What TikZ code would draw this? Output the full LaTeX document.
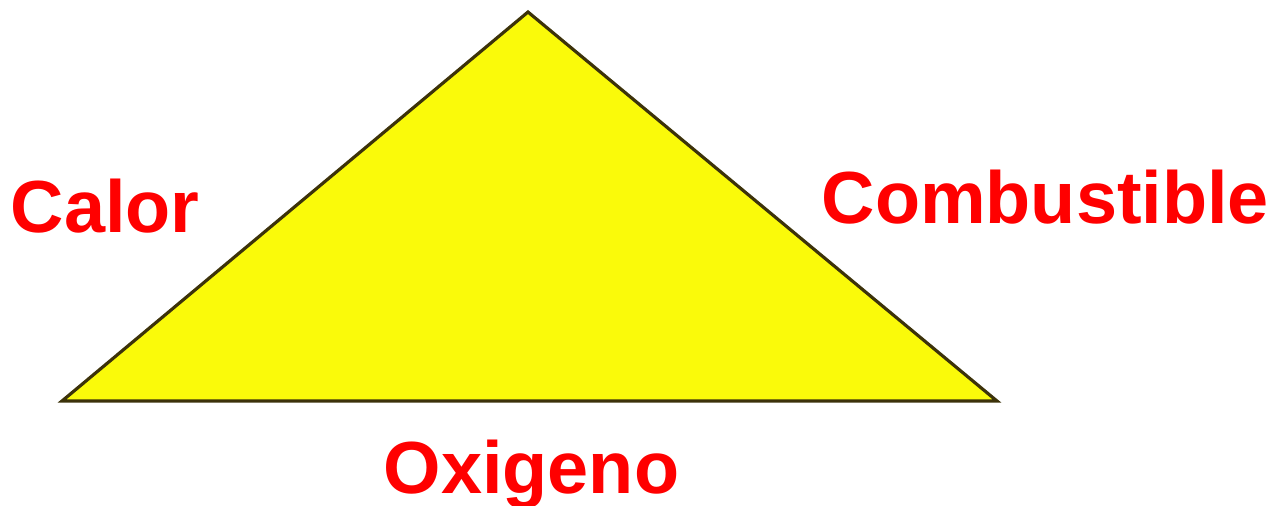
\documentclass[tikz,border=0pt]{standalone}
\usepackage{fontspec}
\setmainfont{Liberation Sans}
\usetikzlibrary{positioning}
\definecolor{giallo}{RGB}{250,250,10}
\definecolor{bordo}{RGB}{60,50,10}
\definecolor{rosso}{RGB}{255,0,0}

\begin{document}
\begin{tikzpicture}[x=0.01cm, y=-0.01cm,
    % Stile per il triangolo
    triangolo/.style={fill=giallo, draw=bordo, line width=0.9pt, line join=miter},
    % Stile per le etichette
    etichetta/.style={font=\fontsize{21}{24}\selectfont\bfseries, text=rosso,
        inner sep=0pt, anchor=base west}
]
\useasboundingbox (0,0) rectangle (1287,505);

% Vertici del triangolo del fuoco
\coordinate (apice) at (528,12);
\coordinate (sinistra) at (62,401);
\coordinate (destra) at (997,401);

\draw[triangolo] (apice) -- (destra) -- (sinistra) -- cycle;

% Etichette dei lati
\node[etichetta] (calor) at (10,232) {Calor};
\node[etichetta] (combustible) at (821,223) {Combustible};
\node[etichetta] (oxigeno) at (383,493) {Oxigeno};

\end{tikzpicture}
\end{document}
